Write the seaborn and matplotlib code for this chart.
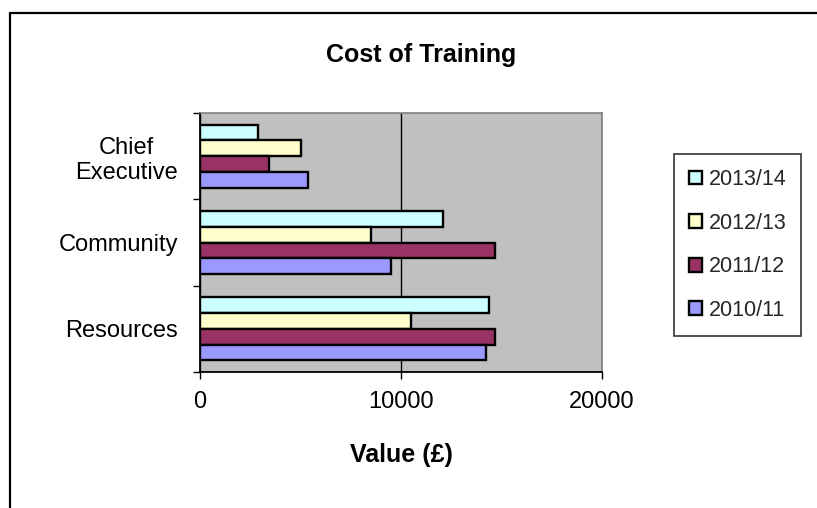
import matplotlib
matplotlib.use('Agg')
import pandas as pd
import matplotlib.pyplot as plt
import seaborn as sns
from matplotlib.patches import Patch
from matplotlib.lines import Line2D

# values (GBP)
departments = ['Chief Executive', 'Community', 'Resources']
dept_labels = ['Chief\nExecutive', 'Community', 'Resources']
years = ['2013/14', '2012/13', '2011/12', '2010/11']
cost_2013_14 = [2900, 12100, 14400]
cost_2012_13 = [5000, 8500, 10500]
cost_2011_12 = [3450, 14700, 14700]
cost_2010_11 = [5350, 9500, 14250]
x_ticks = [0, 10000, 20000]
colours = ['#CCFFFF', '#FFFFCC', '#993366', '#9999FF']

rows = []
for yr, vals in zip(years, [cost_2013_14, cost_2012_13, cost_2011_12, cost_2010_11]):
    for d, v in zip(departments, vals):
        rows.append((d, yr, v))
df = pd.DataFrame(rows, columns=['Department', 'Year', 'Value'])

sns.set_theme(style='white')
plt.rcParams['font.family'] = ['Liberation Sans', 'DejaVu Sans']

W, H = 817, 508
fig = plt.figure(figsize=(W / 100, H / 100), dpi=100)
ax = fig.add_axes([200 / W, (H - 372) / H, 402 / W, 259 / H])

sns.barplot(data=df, y='Department', x='Value', hue='Year',
            order=departments, hue_order=years, palette=colours,
            orient='h', width=0.73, saturation=1, errorbar=None,
            edgecolor='black', linewidth=1.7, legend=False, ax=ax)

ax.set_facecolor('#C0C0C0')
ax.set_xlim(0, 20000)
ax.set_ylim(2.5, -0.5)
ax.set_xticks(x_ticks)
ax.set_xticklabels([str(t) for t in x_ticks])
ax.set_yticks([-0.5, 0.5, 1.5, 2.5])
ax.set_yticklabels([])
ax.set_yticks([0, 1, 2], minor=True)
ax.set_yticklabels(dept_labels, minor=True)
for lab in ax.get_yticklabels(minor=True):
    lab.set_multialignment('center')
ax.tick_params(axis='y', which='major', length=5, width=1, color='black',
               direction='out', left=True)
ax.tick_params(axis='y', which='minor', length=0, pad=16, labelsize=17,
               labelcolor='black')
ax.tick_params(axis='x', length=5, width=1, color='black', direction='out',
               bottom=True, pad=9, labelsize=17, labelcolor='black')
ax.set_xlabel('')
ax.set_ylabel('')
ax.grid(axis='x', color='black', linewidth=1)
ax.grid(axis='y', visible=False)
ax.set_axisbelow(True)

for side in ['left', 'bottom']:
    ax.spines[side].set_color('black')
    ax.spines[side].set_linewidth(1.3)
for side in ['top', 'right']:
    ax.spines[side].set_color('#808080')
    ax.spines[side].set_linewidth(1.2)

# titles
fig.text(421 / W, 1 - 55 / H, 'Cost of Training', ha='center', va='center',
         fontsize=18, fontweight='bold', color='black')
fig.text(401 / W, 1 - 455 / H, 'Value (£)', ha='center', va='center',
         fontsize=18, fontweight='bold', color='black')

# legend
handles = [Patch(facecolor=c, edgecolor='black', linewidth=1.7) for c in colours]
leg = fig.legend(handles, years, loc='upper left',
                 bbox_to_anchor=(674 / W, 1 - 154 / H),
                 frameon=True, fancybox=False, fontsize=15.5,
                 handlelength=0.6, handleheight=0.6, handletextpad=0.3,
                 labelspacing=1.05, borderpad=0.7, borderaxespad=0)
leg.get_frame().set_edgecolor('black')
leg.get_frame().set_linewidth(1.2)

# chart area border
fig.add_artist(Line2D([10 / W, 10 / W], [0, 1 - 13 / H], transform=fig.transFigure,
                      color='black', linewidth=1.6))
fig.add_artist(Line2D([10 / W, 1], [1 - 13 / H, 1 - 13 / H], transform=fig.transFigure,
                      color='black', linewidth=1.6))

fig.savefig('out.png', dpi=100)
